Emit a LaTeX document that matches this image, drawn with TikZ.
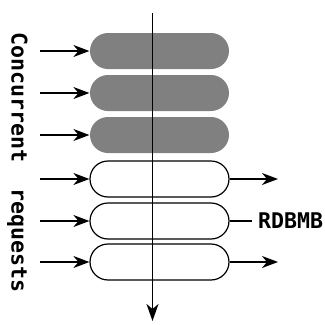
\documentclass[tikz,border=0pt]{standalone}
\usepackage{fontspec}
\setmonofont{DejaVu Sans Mono}
\usetikzlibrary{arrows.meta}

\tikzset{
  req/.style={draw=black, line width=1.2pt, fill=white, rounded corners=18pt,
    minimum width=139pt, minimum height=36pt, inner sep=0pt},
  busy/.style={req, draw=none, fill=black!50},
  arr/.style={line width=1.5pt, -{Stealth[length=16pt, width=12pt, inset=5pt]}},
  lbl/.style={font=\ttfamily\bfseries\fontsize{21.6}{24}\selectfont, inner sep=0pt}
}

\begin{document}
\begin{tikzpicture}[x=1pt, y=-1pt]

  \useasboundingbox (0,0) rectangle (325,325);

  \node [busy] (p1) at (159.5,51) {};
  \node [busy] (p2) at (159.5,93) {};
  \node [busy] (p3) at (159.5,135) {};
  \node [req] (p4) at (159.5,179) {};
  \node [req] (p5) at (159.5,221) {};
  \node [req] (p6) at (159.5,262) {};

  \coordinate (l1) at (40,51);
  \coordinate (l2) at (40,93);
  \coordinate (l3) at (40,135);
  \coordinate (l4) at (40,179);
  \coordinate (l5) at (40,221);
  \coordinate (l6) at (40,262);

  \draw [arr] (l1) -- (p1.west);
  \draw [arr] (l2) -- (p2.west);
  \draw [arr] (l3) -- (p3.west);
  \draw [arr] (l4) -- (p4.west);
  \draw [arr] (l5) -- (p5.west);
  \draw [arr] (l6) -- (p6.west);

  \coordinate (r4) at (278,179);
  \coordinate (r6) at (278,262);
  \draw [arr] (p4.east) -- (r4);
  \draw [arr] (p6.east) -- (r6);

  \node [lbl, anchor=west, inner xsep=6pt] (db) at (252,221) {RDBMB};
  \draw [line width=1.5pt] (p5.east) -- (db.west);

  % time axis
  \coordinate (top) at (152.5,13);
  \coordinate (bot) at (152.5,321);
  \draw [line width=1.8pt, -{Stealth[length=17pt, width=12pt, inset=5pt]}] (top) -- (bot);

  \node [lbl, rotate=-90] (cr) at (17.5,162.5) {Concurrent\ \ requests};

\end{tikzpicture}
\end{document}
